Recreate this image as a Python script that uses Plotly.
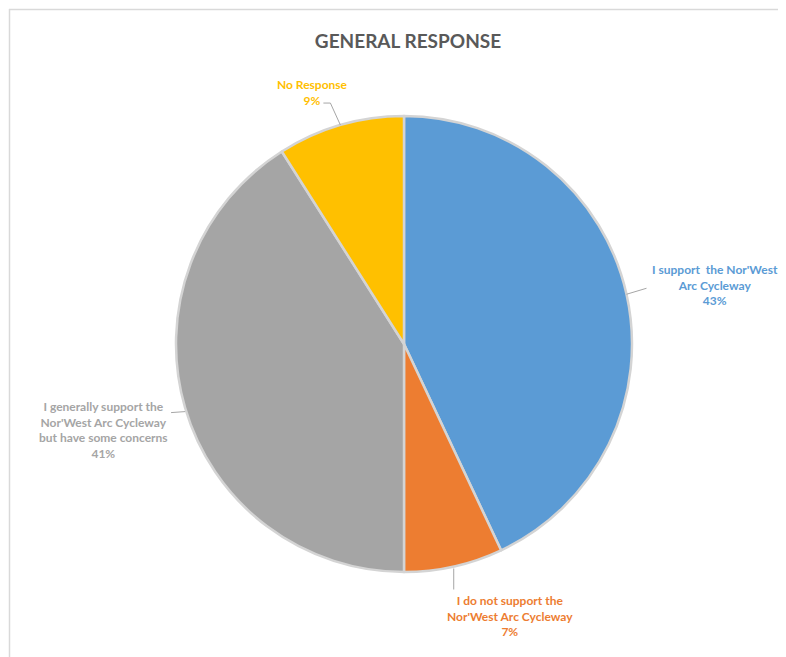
import math
import plotly.graph_objects as go

W, H = 786, 657

categories = ["I support  the Nor'West Arc Cycleway",
              "I do not support the Nor'West Arc Cycleway",
              "I generally support the Nor'West Arc Cycleway but have some concerns",
              "No Response"]
values = [43, 7, 41, 9]
label_text = ["I support  the Nor'West<br>Arc Cycleway<br>43%",
              "I do not support the<br>Nor'West Arc Cycleway<br>7%",
              "I generally support the<br>Nor'West Arc Cycleway<br>but have some concerns<br>41%",
              "No Response<br>9%"]
colors = ["#5B9BD5", "#ED7D31", "#A5A5A5", "#FFC000"]

# layout geometry (pixels in the final page)
CX, CY, R = 404, 344, 228
FONT = "Lato"
OFF = 8  # page body margin

def px(x):
    return (x - OFF) / W

def py(y):
    return 1 - (y - OFF) / H

fig = go.Figure(go.Pie(
    labels=categories, values=values, sort=False, direction="clockwise", rotation=0,
    marker=dict(colors=colors, line=dict(color="#d4d4d4", width=2.5)),
    textinfo="none", hoverinfo="label+percent", showlegend=False,
    domain=dict(x=[px(CX - R), px(CX + R)], y=[py(CY + R), py(CY - R)]),
))

# leader line offsets (pixels relative to slice edge midpoint) and label centres
leader_offsets = [[(0, 0), (20, -6)],
                  [(0, 2), (0, 23)],
                  [(0, 4), (-14, 5)],
                  [(0, 0), (-10, -22), (-17, -22)]]
label_offsets = [(88, -9), (56, 49), (-82, 22), (-28, -33)]

total = sum(values)
cum = 0
shapes = []
annotations = []
for i, v in enumerate(values):
    mid = (cum + v / 2) / total * 2 * math.pi
    cum += v
    ex = CX + R * math.sin(mid)
    ey = CY - R * math.cos(mid)
    pts = [(ex + dx, ey + dy) for dx, dy in leader_offsets[i]]
    path = "M " + " L ".join(f"{px(x):.5f},{py(y):.5f}" for x, y in pts)
    shapes.append(dict(type="path", xref="paper", yref="paper", path=path,
                       line=dict(color="#a6a6a6", width=1)))
    lx, ly = ex + label_offsets[i][0], ey + label_offsets[i][1]
    annotations.append(dict(x=px(lx), y=py(ly), xref="paper", yref="paper",
                            text="<b>" + label_text[i] + "</b>", showarrow=False,
                            align="center", xanchor="center", yanchor="middle",
                            font=dict(family=FONT, size=12, color=colors[i])))

# chart frame
shapes.append(dict(type="line", xref="paper", yref="paper", x0=px(9), x1=1.02,
                   y0=py(9.5), y1=py(9.5), line=dict(color="#d9d9d9", width=1.5)))
shapes.append(dict(type="line", xref="paper", yref="paper", x0=px(9.5), x1=px(9.5),
                   y0=py(9), y1=-0.02, line=dict(color="#d9d9d9", width=1.5)))

fig.update_layout(
    width=W, height=H,
    margin=dict(l=0, r=0, t=0, b=0),
    paper_bgcolor="white", plot_bgcolor="white",
    title=dict(text="<b>GENERAL RESPONSE</b>", x=px(408), xanchor="center",
               y=py(41), yanchor="middle",
               font=dict(family=FONT, size=19, color="#595959")),
    shapes=shapes, annotations=annotations,
)

fig.write_html("out.html")
